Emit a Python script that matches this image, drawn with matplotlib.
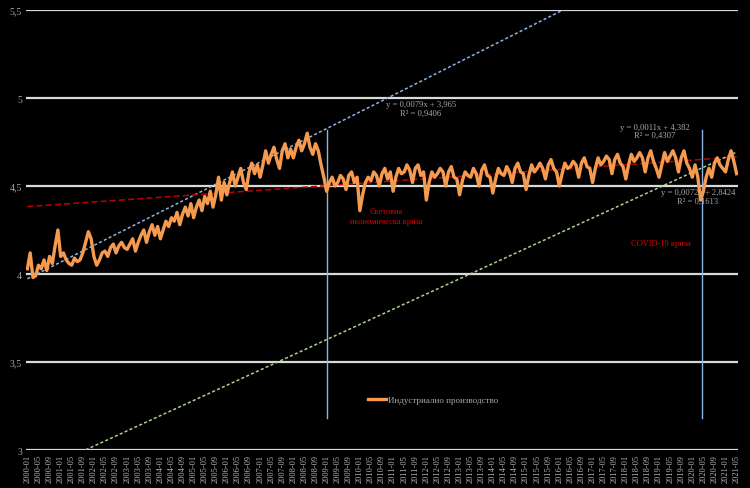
import numpy as np
import matplotlib
matplotlib.use("Agg")
import matplotlib.pyplot as plt

plt.rcParams["font.family"] = ["Liberation Serif", "DejaVu Serif"]

# monthly index values (log scale), 2000-01 .. 2021-05
y2000 = [4.03, 4.12, 3.98, 3.99, 4.05, 4.03, 4.08, 4.02, 4.10, 4.06, 4.16, 4.25]
y2001 = [4.10, 4.12, 4.08, 4.06, 4.05, 4.09, 4.07, 4.08, 4.12, 4.18, 4.24, 4.20]
y2002 = [4.10, 4.05, 4.08, 4.12, 4.13, 4.10, 4.15, 4.17, 4.12, 4.16, 4.18, 4.15]
y2003 = [4.14, 4.17, 4.20, 4.13, 4.18, 4.22, 4.25, 4.18, 4.24, 4.28, 4.22, 4.27]
y2004 = [4.20, 4.25, 4.30, 4.27, 4.32, 4.30, 4.35, 4.28, 4.34, 4.38, 4.33, 4.40]
y2005 = [4.32, 4.38, 4.42, 4.36, 4.44, 4.40, 4.47, 4.38, 4.45, 4.55, 4.42, 4.52]
y2006 = [4.45, 4.52, 4.58, 4.50, 4.55, 4.60, 4.52, 4.48, 4.58, 4.63, 4.57, 4.62]
y2007 = [4.55, 4.62, 4.70, 4.63, 4.68, 4.72, 4.65, 4.60, 4.70, 4.74, 4.66, 4.71]
y2008 = [4.66, 4.72, 4.76, 4.70, 4.74, 4.80, 4.72, 4.68, 4.74, 4.70, 4.62, 4.55]
y2009 = [4.47, 4.52, 4.55, 4.50, 4.52, 4.56, 4.54, 4.48, 4.56, 4.58, 4.52, 4.55]
y2010 = [4.36, 4.45, 4.52, 4.55, 4.53, 4.58, 4.56, 4.50, 4.57, 4.60, 4.54, 4.58]
y2011 = [4.47, 4.55, 4.60, 4.57, 4.58, 4.62, 4.59, 4.52, 4.60, 4.62, 4.56, 4.58]
y2012 = [4.42, 4.52, 4.58, 4.55, 4.57, 4.60, 4.58, 4.50, 4.58, 4.61, 4.55, 4.54]
y2013 = [4.45, 4.53, 4.58, 4.56, 4.55, 4.60, 4.57, 4.50, 4.59, 4.62, 4.56, 4.55]
y2014 = [4.46, 4.54, 4.60, 4.57, 4.56, 4.61, 4.58, 4.52, 4.60, 4.63, 4.58, 4.57]
y2015 = [4.48, 4.56, 4.62, 4.58, 4.60, 4.63, 4.60, 4.54, 4.62, 4.65, 4.60, 4.58]
y2016 = [4.50, 4.57, 4.63, 4.60, 4.61, 4.64, 4.62, 4.55, 4.63, 4.66, 4.61, 4.60]
y2017 = [4.52, 4.60, 4.66, 4.62, 4.64, 4.67, 4.65, 4.57, 4.65, 4.68, 4.63, 4.61]
y2018 = [4.54, 4.62, 4.68, 4.64, 4.66, 4.69, 4.66, 4.58, 4.66, 4.70, 4.64, 4.60]
y2019 = [4.55, 4.62, 4.69, 4.64, 4.67, 4.70, 4.66, 4.58, 4.66, 4.70, 4.63, 4.60]
y2020 = [4.55, 4.62, 4.55, 4.42, 4.47, 4.55, 4.60, 4.55, 4.63, 4.66, 4.62, 4.60]
y2021 = [4.58, 4.65, 4.70, 4.64, 4.57]

series = (y2000 + y2001 + y2002 + y2003 + y2004 + y2005 + y2006 + y2007 + y2008
          + y2009 + y2010 + y2011 + y2012 + y2013 + y2014 + y2015 + y2016
          + y2017 + y2018 + y2019 + y2020 + y2021)
months = [f"{2000 + k // 12}-{k % 12 + 1:02d}" for k in range(len(series))]

# trendlines as printed on the chart (x = month number, 1-based)
trends = [  # (slope, intercept, r2, colour, dash, label pos)
    (0.0079, 3.965, 0.9406, "#8DB4E2", (0, (2, 1.5)), (143, 4.99)),
    (0.0011, 4.382, 0.4307, "#C00000", (0, (4, 2)), (227.5, 4.86)),
    (0.0072, 2.8424, 0.1613, "#A9D18E", (0, (2, 1.5)), (243, 4.49)),
]
event_x = [109, 244.5]
event_labels = [(130.5, 4.38, "Световна\nикономическа криза"), (229.5, 4.2, "COVID-19 криза")]

fig = plt.figure(figsize=(7.5, 4.89), dpi=100, facecolor="black")
ax = fig.add_axes([0.0347, 0.0777, 0.9493, 0.8998], facecolor="black")

x = np.arange(1, len(series) + 1)
grey = "#A6A6A6"

for yv in [3, 3.5, 4, 4.5, 5, 5.5]:
    ax.axhline(yv, color="#D9D9D9", lw=1.6, zorder=1)

for a, b, r2, col, ls, (tx, ty) in trends:
    ax.plot(x, a * x + b, color=col, lw=1.1, ls=ls, zorder=3)
    label = f"y = {a:.4f}x + {b:g}\nR² = {r2:.4f}".replace(".", ",")
    ax.text(tx, ty, label, color=grey, fontsize=6.2, ha="center", va="top",
            linespacing=1.1, zorder=5)

for ex in event_x:
    ax.plot([ex, ex], [3.18, 4.82], color="#8DB4E2", lw=1, zorder=2)

for tx, ty, t in event_labels:
    ax.text(tx, ty, t, color="#E00000", fontsize=6, ha="center", va="top",
            linespacing=1.3, zorder=5)

ln, = ax.plot(x, series, color="#F59A4E", lw=2.4, zorder=4)
ax.legend([ln], ["Индустриално производство"], loc="center", bbox_to_anchor=(0.572, 0.114),
          frameon=False, fontsize=6.5, labelcolor=grey, handlelength=2.0, handletextpad=0.2)

ax.set_xlim(0.5, len(series) + 0.5)
ax.set_ylim(3, 5.5)
ax.set_yticks([3, 3.5, 4, 4.5, 5, 5.5])
ax.set_yticklabels(["3", "3,5", "4", "4,5", "5", "5,5"], color=grey, fontsize=7)
ax.set_xticks(x[::4])
ax.set_xticklabels(months[::4], rotation=90, color="#B4B4B4", fontsize=6)
ax.tick_params(length=0, pad=3)
for s in ax.spines.values():
    s.set_visible(False)

fig.savefig("out.png", dpi=100, facecolor="black")
